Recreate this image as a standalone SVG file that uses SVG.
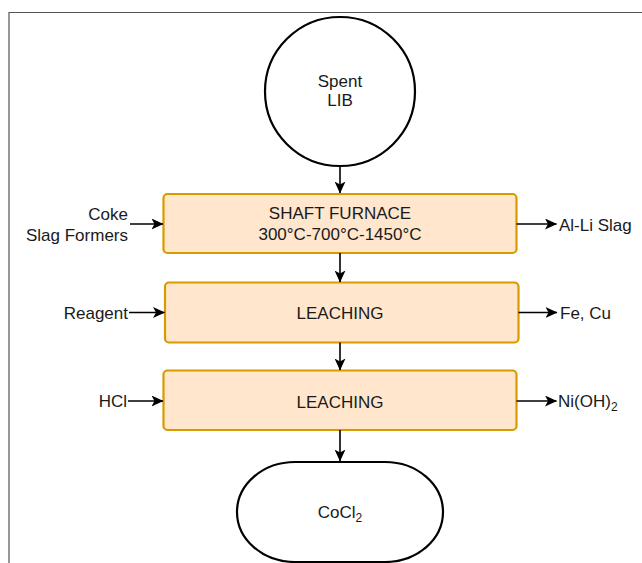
<svg xmlns="http://www.w3.org/2000/svg" width="642" height="563" viewBox="0 0 642 563">
<defs>
<marker id="arr" viewBox="0 0 12 11" refX="11.5" refY="5.5" markerWidth="12" markerHeight="11" markerUnits="userSpaceOnUse" orient="auto">
<path d="M0,0 L12,5.5 L0,11 L3,5.5 Z" fill="#000"/>
</marker>
<style>
text{font-family:"Liberation Sans",Arial,Helvetica,sans-serif;font-size:17px;fill:#1a1a1a}
.box{fill:#ffe6cc;stroke:#d79b00;stroke-width:2.2}
.term{fill:#fff;stroke:#000;stroke-width:2.2}
.c{stroke:#000;stroke-width:1.6;fill:none;marker-end:url(#arr)}
.m{text-anchor:middle}
.e{text-anchor:end}
.sub{font-size:12px}
</style>
</defs>
<rect width="642" height="563" fill="#fff"/>
<path d="M9,563 V12.5 H642" fill="none" stroke="#555" stroke-width="1.2"/>

<g id="spent-lib">
<ellipse class="term" cx="340" cy="91.5" rx="75" ry="74.5"/>
<text class="m" x="340" y="86.5">Spent</text>
<text class="m" x="340" y="106">LIB</text>
</g>

<g id="shaft-furnace">
<rect class="box" x="163.5" y="194" width="353" height="59" rx="4"/>
<text class="m" x="340" y="219">SHAFT FURNACE</text>
<text class="m" x="340" y="240">300°C-700°C-1450°C</text>
</g>

<g id="leaching-1">
<rect class="box" x="165" y="282.5" width="353.5" height="60" rx="4"/>
<text class="m" x="340" y="319">LEACHING</text>
</g>

<g id="leaching-2">
<rect class="box" x="163.5" y="370.5" width="353" height="59.5" rx="4"/>
<text class="m" x="340" y="407.5">LEACHING</text>
</g>

<g id="cocl2">
<rect class="term" x="237" y="462" width="206" height="100" rx="58" ry="50"/>
<text class="m" x="340" y="517.5">CoCl<tspan class="sub" dy="4">2</tspan></text>
</g>

<g id="inputs-outputs">
<text class="e" x="128" y="220">Coke</text>
<text class="e" x="128" y="241">Slag Formers</text>
<text x="559" y="231">Al-Li Slag</text>
<text class="e" x="128" y="319">Reagent</text>
<text x="560" y="319">Fe, Cu</text>
<text class="e" x="127" y="407">HCl</text>
<text x="558" y="407">Ni(OH)<tspan class="sub" dy="4">2</tspan></text>
</g>

<g id="connectors">
<line class="c" x1="340" y1="166" x2="340" y2="193"/>
<line class="c" x1="340" y1="253" x2="340" y2="282"/>
<line class="c" x1="340" y1="342.5" x2="340" y2="370"/>
<line class="c" x1="340" y1="430" x2="340" y2="461"/>
<line class="c" x1="130" y1="224" x2="163" y2="224"/>
<line class="c" x1="516.5" y1="224" x2="556.5" y2="224"/>
<line class="c" x1="129" y1="312.5" x2="164.5" y2="312.5"/>
<line class="c" x1="518.5" y1="312.5" x2="557" y2="312.5"/>
<line class="c" x1="128" y1="401" x2="163" y2="401"/>
<line class="c" x1="516.5" y1="401" x2="556.5" y2="401"/>
</g>
</svg>
